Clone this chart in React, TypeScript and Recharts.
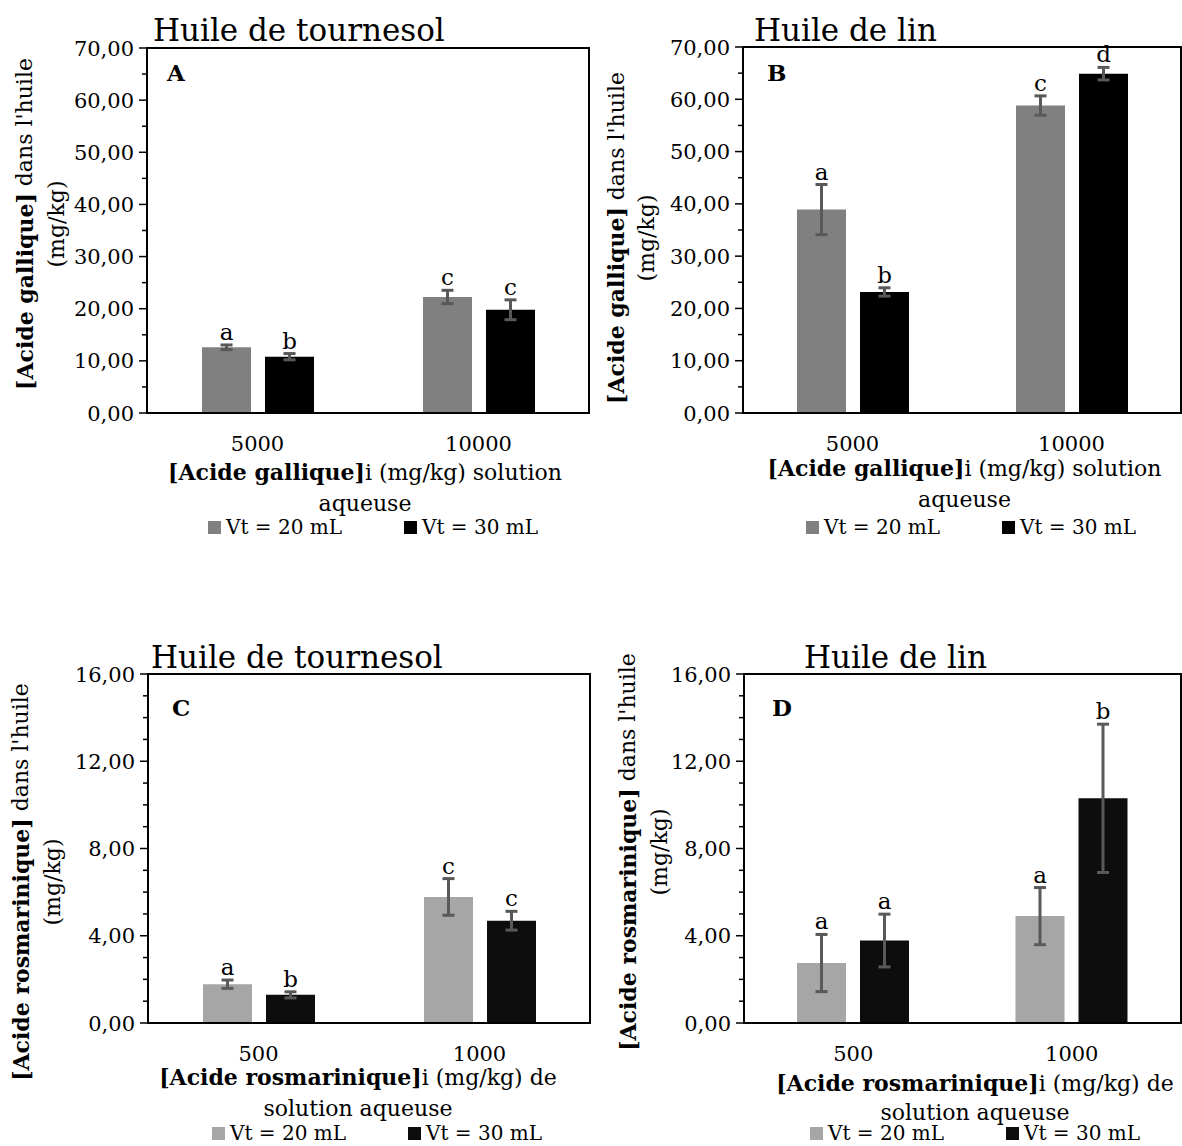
import React from "react";
import { BarChart, Bar, XAxis, YAxis, ErrorBar, LabelList, Legend, ReferenceArea } from "recharts";

const FONT = "'DejaVu Serif', serif";

// categories
const gallicDoses = ["5000", "10000"];
const rosDoses = ["500", "1000"];

// A - huile de tournesol, acide gallique
const sunGallic20 = [12.6, 22.25];
const sunGallic20Err = [0.45, 1.28];
const sunGallic30 = [10.8, 19.8];
const sunGallic30Err = [0.6, 1.9];
const sunGallic20Letters = ["a", "c"];
const sunGallic30Letters = ["b", "c"];

// B - huile de lin, acide gallique
const linGallic20 = [38.9, 58.8];
const linGallic20Err = [4.8, 1.85];
const linGallic30 = [23.15, 64.9];
const linGallic30Err = [0.8, 1.2];
const linGallic20Letters = ["a", "c"];
const linGallic30Letters = ["b", "d"];

// C - huile de tournesol, acide rosmarinique
const sunRos20 = [1.78, 5.78];
const sunRos20Err = [0.19, 0.84];
const sunRos30 = [1.29, 4.69];
const sunRos30Err = [0.14, 0.43];
const sunRos20Letters = ["a", "c"];
const sunRos30Letters = ["b", "c"];

// D - huile de lin, acide rosmarinique
const linRos20 = [2.75, 4.9];
const linRos20Err = [1.31, 1.31];
const linRos30 = [3.78, 10.3];
const linRos30Err = [1.21, 3.4];
const linRos20Letters = ["a", "a"];
const linRos30Letters = ["a", "b"];

// y ticks (labels only on majors)
const gallicTicks = [0, 5, 10, 15, 20, 25, 30, 35, 40, 45, 50, 55, 60, 65, 70];
const rosTicks = [0, 1, 2, 3, 4, 5, 6, 7, 8, 9, 10, 11, 12, 13, 14, 15, 16];

const seriesNames = ["Vt = 20 mL", "Vt = 30 mL"];

const fmt = (v: number) => v.toFixed(2).replace(".", ",");

function buildData(doses: string[], v20: number[], e20: number[], v30: number[], e30: number[]) {
  return doses.map((d, i) => ({ dose: d, v20: v20[i], e20: e20[i], v30: v30[i], e30: e30[i] }));
}

function makeYTick(every: number) {
  return (p: any) => {
    const v = p.payload.value;
    const major = v % every === 0;
    return (
      <g>
        <line x1={p.x - (major ? 8 : 5)} x2={p.x} y1={p.y} y2={p.y} stroke="#000" strokeWidth={1.5} />
        {major && (
          <text x={p.x - 13} y={p.y} dy="0.36em" textAnchor="end" fontSize={21} fontFamily={FONT} fill="#000">
            {fmt(v)}
          </text>
        )}
      </g>
    );
  };
}

const XTick = (p: any) => (
  <text x={p.x} y={p.y + 38} textAnchor="middle" fontSize={21} fontFamily={FONT} fill="#000">
    {p.payload.value}
  </text>
);

function letterContent(letters: string[], errs: number[], values: number[]) {
  return (props: any) => {
    const vb = props.viewBox && props.viewBox.x != null ? props.viewBox : props;
    const x = Number(vb.x);
    const y = Number(vb.y);
    const w = Number(vb.width);
    const hs = Number(vb.height);
    const h = Math.abs(hs);
    const top = Math.min(y, y + hs);
    const v = Number(props.value);
    let idx = props.index;
    if (idx == null) idx = values.indexOf(v);
    const errPx = v ? (errs[idx] * h) / v : 0;
    return (
      <text x={x + w / 2} y={top - errPx - 5} textAnchor="middle" fontSize={23} fontFamily={FONT} fill="#000">
        {letters[idx]}
      </text>
    );
  };
}

const renderLegend = (props: any) => {
  const payload = props.payload || [];
  return (
    <svg width={340} height={24} style={{ display: "block", overflow: "visible" }}>
      {payload.map((p: any, i: number) => (
        <g key={i} transform={`translate(${i * 196},0)`}>
          <rect x={0} y={8} width={13} height={13} fill={p.color} />
          <text x={18} y={21} fontSize={20} fontFamily={FONT} fill="#000">
            {p.value}
          </text>
        </g>
      ))}
    </svg>
  );
};

type PanelProps = {
  left: number;
  top: number;
  width: number;
  height: number;
  margin: { top: number; right: number; bottom: number; left: number };
  data: any[];
  domain: [number, number];
  ticks: number[];
  every: number;
  colors: [string, string];
  letters20: string[];
  letters30: string[];
  err20: number[];
  err30: number[];
  v20: number[];
  v30: number[];
  legendLeft: number;
  legendTop: number;
};

function Panel(p: PanelProps) {
  return (
    <div style={{ position: "absolute", left: p.left, top: p.top }}>
      <BarChart width={p.width} height={p.height} data={p.data} margin={p.margin} barSize={49} barGap={14}>
        <XAxis
          dataKey="dose"
          interval={0}
          tickLine={false}
          tickSize={0}
          tickMargin={0}
          height={30}
          axisLine={{ stroke: "#000", strokeWidth: 2 }}
          tick={XTick}
        />
        <YAxis
          domain={p.domain}
          ticks={p.ticks}
          interval={0}
          tickLine={false}
          tickSize={0}
          tickMargin={0}
          width={60}
          axisLine={{ stroke: "#000", strokeWidth: 2 }}
          tick={makeYTick(p.every)}
        />
        <Legend
          layout="horizontal"
          align="center"
          verticalAlign="middle"
          content={renderLegend}
          wrapperStyle={{ left: p.legendLeft, top: p.legendTop, bottom: "auto", width: "auto" }}
        />
        <Bar dataKey="v20" name={seriesNames[0]} fill={p.colors[0]} isAnimationActive={false}>
          <ErrorBar dataKey="e20" width={6} strokeWidth={3} stroke="#595959" isAnimationActive={false} />
          <LabelList dataKey="v20" content={letterContent(p.letters20, p.err20, p.v20)} />
        </Bar>
        <Bar dataKey="v30" name={seriesNames[1]} fill={p.colors[1]} isAnimationActive={false}>
          <ErrorBar dataKey="e30" width={6} strokeWidth={3} stroke="#595959" isAnimationActive={false} />
          <LabelList dataKey="v30" content={letterContent(p.letters30, p.err30, p.v30)} />
        </Bar>
        <ReferenceArea
          y1={p.domain[0]}
          y2={p.domain[1]}
          fill="none"
          fillOpacity={0}
          stroke="#000"
          strokeWidth={2}
          ifOverflow="visible"
        />
      </BarChart>
    </div>
  );
}

function YTitle({ x1, x2, cy, bold, rest }: { x1: number; x2: number; cy: number; bold: string; rest: string }) {
  return (
    <g fontSize={22} fontFamily={FONT} fill="#000">
      <text transform={`translate(${x1},${cy}) rotate(-90)`} textAnchor="middle" dominantBaseline="central">
        <tspan fontWeight="bold">{bold}</tspan>
        {rest}
      </text>
      <text transform={`translate(${x2},${cy}) rotate(-90)`} textAnchor="middle" dominantBaseline="central">
        (mg/kg)
      </text>
    </g>
  );
}

function XTitle({ cx, y1, y2, bold, rest, line2 }: { cx: number; y1: number; y2: number; bold: string; rest: string; line2: string }) {
  return (
    <g fontSize={22} fontFamily={FONT} fill="#000">
      <text x={cx} y={y1} textAnchor="middle">
        <tspan fontWeight="bold">{bold}</tspan>
        {rest}
      </text>
      <text x={cx} y={y2} textAnchor="middle">
        {line2}
      </text>
    </g>
  );
}

export default function App() {
  const dataA = buildData(gallicDoses, sunGallic20, sunGallic20Err, sunGallic30, sunGallic30Err);
  const dataB = buildData(gallicDoses, linGallic20, linGallic20Err, linGallic30, linGallic30Err);
  const dataC = buildData(rosDoses, sunRos20, sunRos20Err, sunRos30, sunRos30Err);
  const dataD = buildData(rosDoses, linRos20, linRos20Err, linRos30, linRos30Err);

  return (
    <div style={{ position: "absolute", left: 0, top: 0, width: 1182, height: 1146, background: "#fff", overflow: "hidden" }}>
      <Panel
        left={0} top={0} width={592} height={560}
        margin={{ top: 48, right: 3, bottom: 117, left: 87 }}
        data={dataA} domain={[0, 70]} ticks={gallicTicks} every={10}
        colors={["#808080", "#000000"]}
        letters20={sunGallic20Letters} letters30={sunGallic30Letters}
        err20={sunGallic20Err} err30={sunGallic30Err} v20={sunGallic20} v30={sunGallic30}
        legendLeft={208} legendTop={513}
      />
      <Panel
        left={590} top={0} width={592} height={560}
        margin={{ top: 47, right: 1, bottom: 117, left: 93 }}
        data={dataB} domain={[0, 70]} ticks={gallicTicks} every={10}
        colors={["#808080", "#000000"]}
        letters20={linGallic20Letters} letters30={linGallic30Letters}
        err20={linGallic20Err} err30={linGallic30Err} v20={linGallic20} v30={linGallic30}
        legendLeft={216} legendTop={513}
      />
      <Panel
        left={0} top={600} width={592} height={546}
        margin={{ top: 74, right: 2, bottom: 93, left: 88 }}
        data={dataC} domain={[0, 16]} ticks={rosTicks} every={4}
        colors={["#a6a6a6", "#0d0d0d"]}
        letters20={sunRos20Letters} letters30={sunRos30Letters}
        err20={sunRos20Err} err30={sunRos30Err} v20={sunRos20} v30={sunRos30}
        legendLeft={212} legendTop={519}
      />
      <Panel
        left={590} top={600} width={592} height={546}
        margin={{ top: 74, right: 1, bottom: 93, left: 94 }}
        data={dataD} domain={[0, 16]} ticks={rosTicks} every={4}
        colors={["#a6a6a6", "#0d0d0d"]}
        letters20={linRos20Letters} letters30={linRos30Letters}
        err20={linRos20Err} err30={linRos30Err} v20={linRos20} v30={linRos30}
        legendLeft={220} legendTop={519}
      />
      <svg width={1182} height={1146} style={{ position: "absolute", left: 0, top: 0, pointerEvents: "none" }}>
        <g fontSize={31} fontFamily={FONT} fill="#000">
          <text x={153} y={41}>Huile de tournesol</text>
          <text x={754} y={41}>Huile de lin</text>
          <text x={151} y={668}>Huile de tournesol</text>
          <text x={804} y={668}>Huile de lin</text>
        </g>
        <g fontSize={23} fontFamily={FONT} fontWeight="bold" fill="#000">
          <text x={167} y={81}>A</text>
          <text x={767} y={81}>B</text>
          <text x={172} y={716}>C</text>
          <text x={772} y={716}>D</text>
        </g>
        <YTitle x1={24.5} x2={56.5} cy={224} bold="[Acide gallique]" rest=" dans l'huile" />
        <YTitle x1={616} x2={646.5} cy={238} bold="[Acide gallique]" rest=" dans l'huile" />
        <YTitle x1={20.7} x2={52.7} cy={882} bold="[Acide rosmarinique]" rest=" dans l'huile" />
        <YTitle x1={627.6} x2={659.6} cy={852} bold="[Acide rosmarinique]" rest=" dans l'huile" />
        <XTitle cx={365} y1={480} y2={511} bold="[Acide gallique]" rest="i (mg/kg) solution" line2="aqueuse" />
        <XTitle cx={964.5} y1={476} y2={507} bold="[Acide gallique]" rest="i (mg/kg) solution" line2="aqueuse" />
        <XTitle cx={358} y1={1085} y2={1116} bold="[Acide rosmarinique]" rest="i (mg/kg) de" line2="solution aqueuse" />
        <XTitle cx={975} y1={1091} y2={1120} bold="[Acide rosmarinique]" rest="i (mg/kg) de" line2="solution aqueuse" />
      </svg>
    </div>
  );
}
